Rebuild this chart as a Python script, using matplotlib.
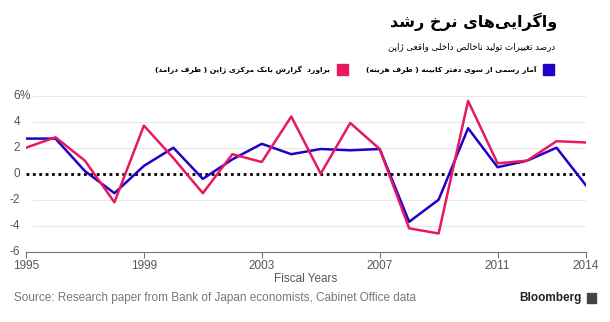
import matplotlib
matplotlib.use("Agg")
import matplotlib.pyplot as plt
from matplotlib.patches import Rectangle

years = list(range(1995, 2015))
cabinet = [2.7, 2.7, 0.2, -1.5, 0.6, 2.0, -0.4, 1.1, 2.3, 1.5,
           1.9, 1.8, 1.9, -3.7, -2.0, 3.5, 0.5, 1.0, 2.0, -0.9]
boj = [2.0, 2.8, 1.0, -2.2, 3.7, 1.2, -1.5, 1.5, 0.9, 4.4,
       0.0, 3.9, 1.9, -4.2, -4.6, 5.6, 0.8, 1.0, 2.5, 2.4]
xticks = [1995, 1999, 2003, 2007, 2011, 2014]
yticks = [-6, -4, -2, 0, 2, 4, 6]

title = "واگرایی\u200cهای نرخ رشد"
subtitle = "درصد تغییرات تولید ناخالص داخلی واقعی ژاپن"
label_cab = "آمار رسمی از سوی دفتر کابینه ( طرف هزینه)"
label_boj = "براورد  گزارش بانک مرکزی ژاپن ( طرف درامد)"
source = "Source: Research paper from Bank of Japan economists, Cabinet Office data"

BLUE = "#2200c8"
PINK = "#e8195f"

# matplotlib has no arabic shaping, so do it by hand: (isolated, final, initial, medial)
forms = {
    "ا": (0xFE8D, 0xFE8E), "آ": (0xFE81, 0xFE82), "د": (0xFEA9, 0xFEAA),
    "ر": (0xFEAD, 0xFEAE), "ز": (0xFEAF, 0xFEB0), "ژ": (0xFB8A, 0xFB8B),
    "و": (0xFEED, 0xFEEE),
    "ب": (0xFE8F, 0xFE90, 0xFE91, 0xFE92), "پ": (0xFB56, 0xFB57, 0xFB58, 0xFB59),
    "ت": (0xFE95, 0xFE96, 0xFE97, 0xFE98), "خ": (0xFEA5, 0xFEA6, 0xFEA7, 0xFEA8),
    "س": (0xFEB1, 0xFEB2, 0xFEB3, 0xFEB4), "ش": (0xFEB5, 0xFEB6, 0xFEB7, 0xFEB8),
    "ص": (0xFEB9, 0xFEBA, 0xFEBB, 0xFEBC), "ط": (0xFEC1, 0xFEC2, 0xFEC3, 0xFEC4),
    "ع": (0xFEC9, 0xFECA, 0xFECB, 0xFECC), "غ": (0xFECD, 0xFECE, 0xFECF, 0xFED0),
    "ف": (0xFED1, 0xFED2, 0xFED3, 0xFED4), "ق": (0xFED5, 0xFED6, 0xFED7, 0xFED8),
    "ک": (0xFB8E, 0xFB8F, 0xFB90, 0xFB91), "گ": (0xFB92, 0xFB93, 0xFB94, 0xFB95),
    "ل": (0xFEDD, 0xFEDE, 0xFEDF, 0xFEE0), "م": (0xFEE1, 0xFEE2, 0xFEE3, 0xFEE4),
    "ن": (0xFEE5, 0xFEE6, 0xFEE7, 0xFEE8), "ه": (0xFEE9, 0xFEEA, 0xFEEB, 0xFEEC),
    "ی": (0xFBFC, 0xFBFD, 0xFBFE, 0xFBFF),
}


def rtl(s):
    out = []
    for i, c in enumerate(s):
        if c not in forms:
            if c != "\u200c":
                out.append(c)
            continue
        prev = s[i - 1] if i > 0 else ""
        nxt = s[i + 1] if i + 1 < len(s) else ""
        jp = prev in forms and len(forms[prev]) == 4
        jn = len(forms[c]) == 4 and nxt in forms
        f = forms[c]
        if jp and jn:
            g = f[3]
        elif jp:
            g = f[1]
        elif jn:
            g = f[2]
        else:
            g = f[0]
        out.append(chr(g))
    vis = "".join(reversed(out))
    return vis.translate(str.maketrans("()", ")("))


plt.rcParams["font.family"] = ["Liberation Sans", "DejaVu Sans"]

fig = plt.figure(figsize=(6.1, 3.22), dpi=100)
ax = fig.add_axes([26 / 610, 1 - 251.7 / 322, 560 / 610, 156 / 322])

ax.plot(years, cabinet, color=BLUE, lw=1.8, zorder=3)
ax.plot(years, boj, color=PINK, lw=1.8, zorder=4)

for y in yticks:
    if y in (0, -6):
        continue
    ax.axhline(y, xmin=7 / 560, color="#e8e8e8", lw=0.8, zorder=1)
ax.axhline(0, color="black", lw=2, ls=(0, (1, 1.3)), zorder=2)

ax.set_xlim(1995, 2014)
ax.set_ylim(-6, 6)
for s in ["top", "right", "left"]:
    ax.spines[s].set_visible(False)
ax.spines["bottom"].set_color("#777777")
ax.spines["bottom"].set_linewidth(0.8)

ax.set_xticks(xticks)
ax.set_xticklabels([str(x) for x in xticks], color="#555555", fontsize=8.5)
ax.tick_params(axis="x", length=4, color="#777777", pad=2)
ax.set_yticks(yticks)
ax.set_yticklabels([])
ax.tick_params(axis="y", length=0)
lab_x = -6 / 560
for y in yticks:
    ax.text(lab_x, y, str(y), transform=ax.get_yaxis_transform(),
            ha="right", va="center", color="#555555", fontsize=8.5)
ax.text(lab_x, 6, "%", transform=ax.get_yaxis_transform(),
        ha="left", va="center", color="#555555", fontsize=8.5)
ax.set_xlabel("Fiscal Years", color="#555555", fontsize=8.5, labelpad=1)

fig.text(557 / 610, 1 - 22 / 322, rtl(title), ha="right", va="center",
         fontsize=11.5, fontweight="bold", family="DejaVu Sans")
fig.text(555 / 610, 1 - 47 / 322, rtl(subtitle), ha="right", va="center",
         fontsize=6.3, family="DejaVu Sans")

fig.patches.append(Rectangle((543 / 610, 1 - 75 / 322), 11 / 610, 11 / 322,
                             transform=fig.transFigure, color=BLUE))
fig.patches.append(Rectangle((337 / 610, 1 - 75 / 322), 11 / 610, 11 / 322,
                             transform=fig.transFigure, color=PINK))
fig.text(536 / 610, 1 - 70 / 322, rtl(label_cab), ha="right", va="center",
         fontsize=5.4, fontweight="bold", family="DejaVu Sans")
fig.text(330 / 610, 1 - 70 / 322, rtl(label_boj), ha="right", va="center",
         fontsize=5.4, fontweight="bold", family="DejaVu Sans")

fig.text(14 / 610, 1 - 298 / 322, source, ha="left", va="center",
         fontsize=8.5, color="#777777")
fig.text(582 / 610, 1 - 298 / 322, "Bloomberg", ha="right", va="center",
         fontsize=8.5, fontweight="bold", color="#222222")
fig.patches.append(Rectangle((587 / 610, 1 - 303 / 322), 9 / 610, 10 / 322,
                             transform=fig.transFigure, color="#444444"))

fig.savefig("out.png", dpi=100)
